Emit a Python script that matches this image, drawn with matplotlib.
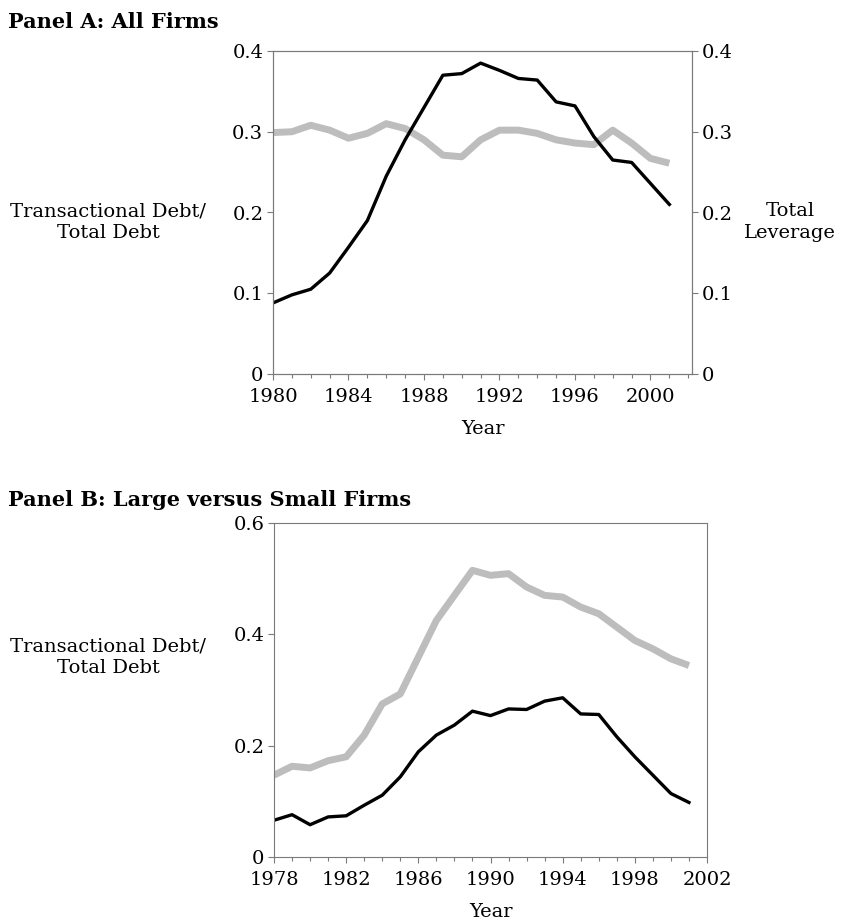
import matplotlib
matplotlib.use("Agg")
import matplotlib.pyplot as plt
from matplotlib.ticker import MultipleLocator, FuncFormatter

plt.rcParams["font.family"] = ["DejaVu Serif"]

## Panel A: all firms
years_a = list(range(1980, 2002))
trans_a = [0.088, 0.098, 0.105, 0.125, 0.157, 0.190, 0.245, 0.290, 0.330, 0.370, 0.372,
           0.385, 0.376, 0.366, 0.364, 0.337, 0.332, 0.294, 0.265, 0.262, 0.236, 0.210]
lev_a = [0.299, 0.300, 0.308, 0.302, 0.292, 0.298, 0.310, 0.304, 0.290, 0.271, 0.269,
         0.290, 0.302, 0.302, 0.298, 0.290, 0.286, 0.284, 0.302, 0.286, 0.267, 0.261]

## Panel B: large versus small firms
years_b = list(range(1978, 2002))
large_b = [0.147, 0.163, 0.160, 0.173, 0.180, 0.219, 0.275, 0.293, 0.359, 0.425, 0.470, 0.515,
           0.506, 0.509, 0.485, 0.470, 0.467, 0.449, 0.437, 0.413, 0.389, 0.374, 0.356, 0.344]
small_b = [0.066, 0.076, 0.058, 0.072, 0.074, 0.093, 0.111, 0.144, 0.189, 0.219, 0.237, 0.262,
           0.254, 0.266, 0.265, 0.280, 0.286, 0.257, 0.256, 0.216, 0.180, 0.147, 0.114, 0.098]

GRAY = "#bdbdbd"
SPINE = "#7a7a7a"
FS = 14
fmt = FuncFormatter(lambda v, p: "{:g}".format(round(v, 2)))


def style(ax):
    for s in ax.spines.values():
        s.set_color(SPINE)
        s.set_linewidth(0.8)
    ax.xaxis.set_minor_locator(MultipleLocator(1))
    ax.tick_params(which="both", direction="out", length=4, width=0.8, color=SPINE,
                   labelsize=FS, pad=3)
    ax.tick_params(axis="x", pad=6)
    ax.tick_params(which="minor", length=3)
    ax.yaxis.set_major_formatter(fmt)


fig = plt.figure(figsize=(8.46, 9.24), dpi=100)

# panel A
ax1 = fig.add_axes([273 / 846, 1 - 374 / 924, 419 / 846, 323 / 924])
ax1.plot(years_a, lev_a, color=GRAY, lw=5, solid_capstyle="butt")
ax1.plot(years_a, trans_a, color="black", lw=2.4)
ax1.set_xlim(1980, 2002.2)
ax1.set_ylim(0, 0.4)
ax1.set_xticks(range(1980, 2001, 4))
ax1.yaxis.set_major_locator(MultipleLocator(0.1))
style(ax1)
ax1r = ax1.twinx()
ax1r.set_ylim(0, 0.4)
ax1r.yaxis.set_major_locator(MultipleLocator(0.1))
style(ax1r)
ax1.set_xlabel("Year", fontsize=FS, labelpad=10)
fig.text(8 / 846, 1 - 22 / 924, "Panel A: All Firms", fontsize=15, fontweight="bold",
         va="center", ha="left")
fig.text(108 / 846, 1 - 222 / 924, "Transactional Debt/\nTotal Debt", fontsize=FS,
         ha="center", va="center", linespacing=1.25)
fig.text(790 / 846, 1 - 222 / 924, "Total\nLeverage", fontsize=FS,
         ha="center", va="center", linespacing=1.25)

# panel B
ax2 = fig.add_axes([274 / 846, 1 - 857 / 924, 433 / 846, 334 / 924])
ax2.plot(years_b, large_b, color=GRAY, lw=5, solid_capstyle="butt")
ax2.plot(years_b, small_b, color="black", lw=2.4)
ax2.set_xlim(1978, 2002)
ax2.set_ylim(0, 0.6)
ax2.set_xticks(range(1978, 2003, 4))
ax2.yaxis.set_major_locator(MultipleLocator(0.2))
style(ax2)
ax2.set_xlabel("Year", fontsize=FS, labelpad=10)
fig.text(8 / 846, 1 - 500 / 924, "Panel B: Large versus Small Firms", fontsize=15,
         fontweight="bold", va="center", ha="left")
fig.text(108 / 846, 1 - 657 / 924, "Transactional Debt/\nTotal Debt", fontsize=FS,
         ha="center", va="center", linespacing=1.25)

fig.savefig("out.png", dpi=100)
